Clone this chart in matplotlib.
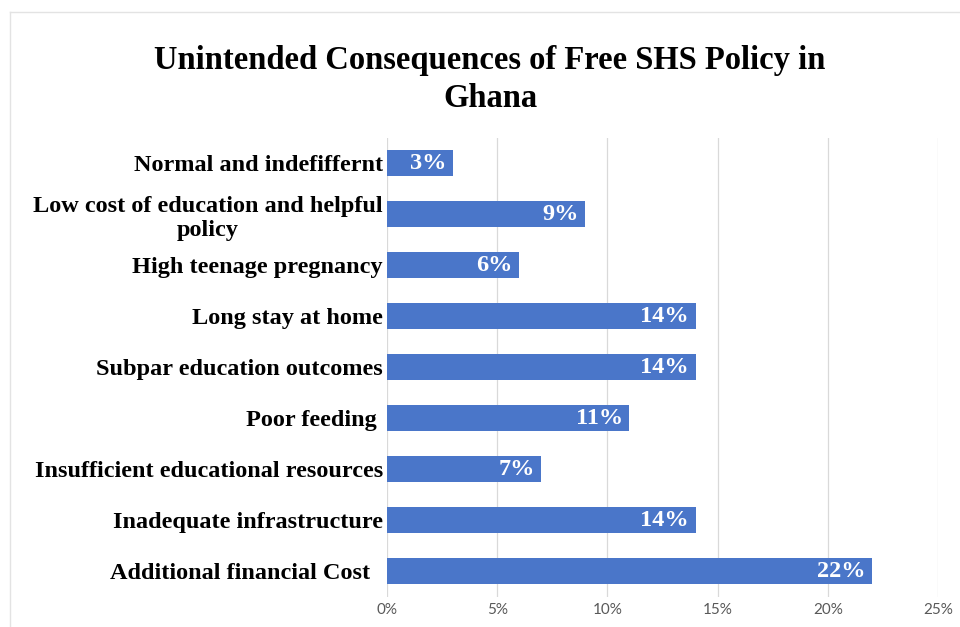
import matplotlib.pyplot as plt
from matplotlib.lines import Line2D
from matplotlib.ticker import PercentFormatter

# categories, bottom to top as drawn
categories = [
    "Additional financial Cost  ",
    "Inadequate infrastructure",
    "Insufficient educational resources",
    "Poor feeding ",
    "Subpar education outcomes",
    "Long stay at home",
    "High teenage pregnancy",
    "Low cost of education and helpful\npolicy",
    "Normal and indefiffernt",
]
values = [22, 14, 7, 11, 14, 14, 6, 9, 3]
xticks = [0, 5, 10, 15, 20, 25]

title = "Unintended Consequences of Free SHS Policy in\nGhana"

serif = "Liberation Serif"
bar_color = "#4A76C9"

fig = plt.figure(figsize=(9.6, 6.27), dpi=100)
ax = fig.add_axes([0.4031, 0.0486, 0.574, 0.7321])

ypos = list(range(len(categories)))
bars = ax.barh(ypos, values, height=0.51, color=bar_color, zorder=3)

for y, v in zip(ypos, values):
    ax.text(v - 0.3, y, f"{v}%", ha="right", va="center", color="white",
            fontsize=17.5, fontweight="bold", family=serif, zorder=4)

ax.set_xlim(0, 25)
ax.set_ylim(-0.5, len(categories) - 0.5)
ax.set_xticks(xticks)
ax.xaxis.set_major_formatter(PercentFormatter(decimals=0))
ax.set_yticks(ypos)
ax.set_yticklabels(categories, family=serif, fontweight="bold", fontsize=17.5,
                   multialignment="center", linespacing=1.2)
ax.tick_params(axis="y", length=0, pad=3)
ax.tick_params(axis="x", length=0, pad=5, labelsize=11, labelcolor="#595959")
for lab in ax.get_xticklabels():
    lab.set_family("Lato")

ax.grid(axis="x", color="#D9D9D9", linewidth=0.9, zorder=0)
for s in ax.spines.values():
    s.set_visible(False)

fig.text(490 / 960, 1 - 45 / 627, title, ha="center", va="top",
         family=serif, fontweight="bold", fontsize=23.5, linespacing=1.3)

# light chart-area border
fig.add_artist(Line2D([10 / 960, 10 / 960], [0, 1 - 12 / 627],
                      transform=fig.transFigure, color="#E3E3E3", lw=1))
fig.add_artist(Line2D([10 / 960, 1], [1 - 12 / 627, 1 - 12 / 627],
                      transform=fig.transFigure, color="#E3E3E3", lw=1))

fig.savefig("out.png", dpi=100)
